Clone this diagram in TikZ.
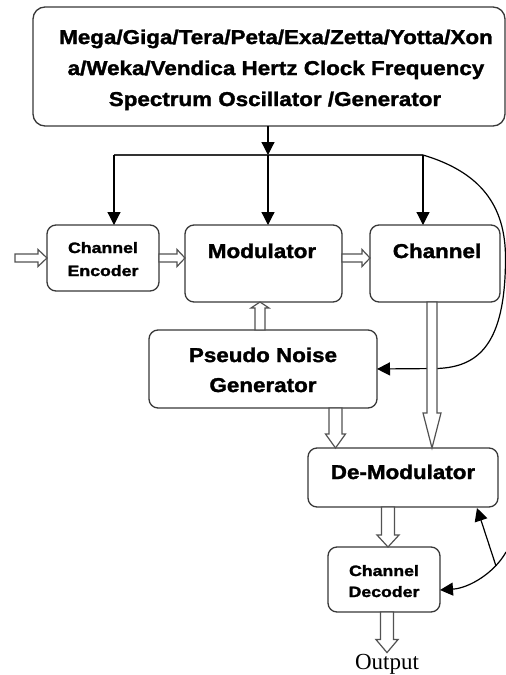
\documentclass[tikz,border=0pt]{standalone}
\usepackage{fontspec}
\usetikzlibrary{arrows.meta,calc}
\newfontfamily\hv{Liberation Sans}[FakeStretch=1.12,FakeBold=1.6]
\newfontfamily\hvs{Liberation Sans}[FakeStretch=1.18,FakeBold=1.8]
\newfontfamily\tm{Liberation Serif}
\tikzset{
  box/.style={draw=black!78,line width=1.3pt,rounded corners=9pt,fill=white,inner sep=0pt,outer sep=0pt},
  big/.style={font=\hv\bfseries\fontsize{20}{24}\selectfont,anchor=base,inner sep=0pt},
  small/.style={font=\hvs\bfseries\fontsize{15}{18}\selectfont,anchor=base,inner sep=0pt},
  arr/.style={draw=black,line width=1.2pt,-{Triangle[length=13pt,width=13pt]}},
  wire/.style={draw=black!80,line width=1.1pt},
  hol/.style={draw=black!68,line width=1.2pt,fill=white,line join=miter}
}
\newcommand\hright[5]{\draw[hol] let \p1=#1, \p2=#2 in (\x1,\y1+#3) -- (\x2-#5,\y1+#3) -- (\x2-#5,\y1+#4) -- (\x2,\y1) -- (\x2-#5,\y1-#4) -- (\x2-#5,\y1-#3) -- (\x1,\y1-#3) -- cycle;}
\newcommand\hdown[5]{\draw[hol] let \p1=#1, \p2=#2 in (\x1-#3,\y1) -- (\x1-#3,\y2+#5) -- (\x1-#4,\y2+#5) -- (\x1,\y2) -- (\x1+#4,\y2+#5) -- (\x1+#3,\y2+#5) -- (\x1+#3,\y1) -- cycle;}
\newcommand\hup[5]{\draw[hol] let \p1=#1, \p2=#2 in (\x1-#3,\y1) -- (\x1-#3,\y2-#5) -- (\x1-#4,\y2-#5) -- (\x1,\y2) -- (\x1+#4,\y2-#5) -- (\x1+#3,\y2-#5) -- (\x1+#3,\y1) -- cycle;}
\begin{document}
\begin{tikzpicture}[x=1pt,y=-1pt]
\useasboundingbox (0,0) rectangle (506,675);
% boxes
\node[box,rounded corners=12pt,minimum width=472pt,minimum height=119pt] (top) at (269,66.5) {};
\node[box,minimum width=112pt,minimum height=66pt] (enc) at (103,258) {};
\node[box,minimum width=157pt,minimum height=77pt] (mod) at (263.5,263.5) {};
\node[box,minimum width=130pt,minimum height=77pt] (chan) at (435,263.5) {};
\node[box,minimum width=228pt,minimum height=78pt] (pn) at (263,369) {};
\node[box,minimum width=190pt,minimum height=59pt] (demod) at (403,477.5) {};
\node[box,minimum width=112pt,minimum height=65pt] (dec) at (384,579.5) {};
% texts
\node[big] (t1) at (276,44) {Mega/Giga/Tera/Peta/Exa/Zetta/Yotta/Xon};
\node[big] (t2) at (276,75) {a/Weka/Vendica Hertz Clock Frequency};
\node[big] (t3) at (275,106) {Spectrum Oscillator /Generator};
\node[small] (enc1) at (103,253) {Channel};
\node[small] (enc2) at (103,276) {Encoder};
\node[big] (modt) at (262,258) {Modulator};
\node[big] (chant) at (437,258) {Channel};
\node[big] (pn1) at (263,362) {Pseudo Noise};
\node[big] (pn2) at (263,392) {Generator};
\node[big] (demodt) at (403,479) {De-Modulator};
\node[small] (dec1) at (384,576) {Channel};
\node[small] (dec2) at (384,597) {Decoder};
\node[font=\tm\fontsize{23}{26}\selectfont,anchor=base,inner sep=1pt] (out) at (387,669) {Output};
% clock distribution
\coordinate (bus) at (268,155);
\coordinate (busL) at (114,155);
\coordinate (busR) at (423,155);
\draw[arr] (268,0 |- top.south) -- (bus);
\draw[wire] (busL) -- (busR);
\draw[arr] (busL) -- (busL |- enc.north);
\draw[arr] (bus) -- (bus |- mod.north);
\draw[arr] (busR) -- (busR |- chan.north);
\draw[arr] (busR) .. controls (480,172) and (505.5,205) .. (505.5,258)
  .. controls (505.5,345) and (478,367) .. (437,368.5) -- (pn.east);
% lower right feedback
\coordinate (rc) at (506,552);
\coordinate (br) at (496,566);
\draw[arr] (rc) .. controls (495,572) and (470,588) .. ([yshift=-10.5pt]dec.east);
\draw[arr] (br) -- ([xshift=-21pt,yshift=-1pt]demod.south east);
% hollow arrows
\coordinate (in) at (15,258);
\hright{(in)}{(enc.west |- in)}{4pt}{8.5pt}{9pt}
\hright{(enc.east |- in)}{(mod.west |- in)}{4pt}{8.5pt}{8pt}
\hright{(mod.east |- in)}{(chan.west |- in)}{4pt}{8.5pt}{8pt}
\hup{(260,0 |- pn.north)}{(260,0 |- mod.south)}{5pt}{9pt}{6pt}
\hdown{(432,0 |- chan.south)}{(432,0 |- demod.north)}{5pt}{9pt}{35pt}
\hdown{(335.5,0 |- pn.south)}{(335.5,0 |- demod.north)}{6.5pt}{10pt}{14pt}
\hdown{(388,0 |- demod.south)}{(388,0 |- dec.north)}{6.5pt}{11pt}{12pt}
\hdown{(387,0 |- dec.south)}{(387,0 |- out.north)}{6.5pt}{11pt}{13pt}
\end{tikzpicture}
\end{document}
